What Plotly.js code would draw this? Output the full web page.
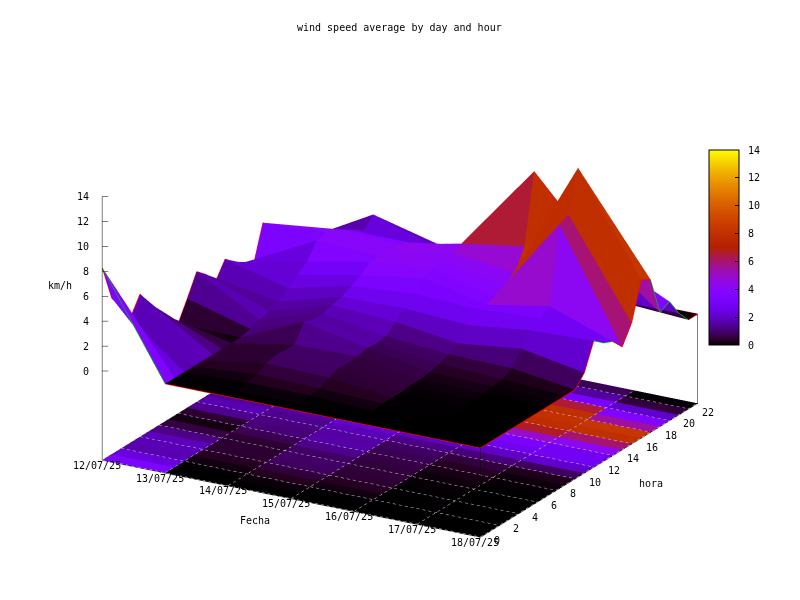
<!DOCTYPE html>
<html><head><meta charset="utf-8">
<script src="https://cdn.plot.ly/plotly-3.0.0.min.js"></script>
<style>html,body{margin:0;padding:0;background:#fff}#plot{width:800px;height:600px}</style>
</head><body><div id="plot"></div>
<script>
const dates=['12/07/25','13/07/25','14/07/25','15/07/25','16/07/25','17/07/25','18/07/25'];
const hourTicks=[0,2,4,6,8,10,12,14,16,18,20,22];
const zTicks=[0,2,4,6,8,10,12,14];
const hours=[0,1,2,3,4,5,6,7,8,9,10,11,12,13,14,15,16,17,18,19,20,21,22,23];
const wind1207=[8.3,5.4,4.1,2.9,4.3,3.1,1.9,.7,0,1.6,3.3,2.6,1.6,2.9,2.2,1.7,1.05,3.95,3.1,2.2,1.4,.7,.2,0];
const wind1307=[0,0,0,0,0,0,0,0,0,.2,.5,.7,1,1.6,2.2,2.8,4,4.2,4,3.5,3,2.5,3.3,2];
const wind1407=[0,0,.2,.4,.8,1,.9,.9,2.25,2,2,2.2,2.4,2.8,3.2,3.8,3.8,3.8,3.8,3.5,2.5,2.1,1.6,1.2];
const wind1507=[0,0,.2,.3,.7,1,.9,1,1.2,1.1,1.2,1.9,2.5,3.2,4,4.2,4.4,4.6,4.9,4.3,3,1.5,1,.5];
const wind1607=[0,0,0,.1,.1,.1,.2,.2,.3,.5,.8,1.2,2.2,3,2.9,3,3.5,4.05,5.7,11.25,5,3,2,1];
const wind1707=[0,0,0,0,0,0,0,.1,.2,.3,.7,1.8,2.8,3.3,3.8,9.9,10.2,13.5,9.1,5.8,4,1,.3,0];
const wind1807=[0,0,0,0,0,0,0,0,0,0,0,.9,3,2.35,2,1.1,2.55,5.55,5.1,2,2.4,1,0,0];
const days=[wind1207,wind1307,wind1407,wind1507,wind1607,wind1707,wind1807];
const FLOOR=-7.16, ZMAX=14;

const cs=[];for(let n=0;n<=48;n++){const g=n/48;
 const r=Math.sqrt(g),gr=g*g*g,b=Math.max(0,Math.sin(2*Math.PI*g));
 cs.push([g,`rgb(${Math.round(r*255)},${Math.round(gr*255)},${Math.round(b*255)})`]);}

const nd=dates.length,nh=hours.length,vx=[],vy=[],vz=[],fz=[],I=[],J=[],K=[],C=[];
for(let d=0;d<nd;d++)for(let h=0;h<nh;h++){vx.push(d);vy.push(hours[h]);vz.push(days[d][h]);fz.push(FLOOR);}
const id=(d,h)=>d*nh+h;
for(let d=0;d<nd-1;d++)for(let h=0;h<nh-1;h++){
 const m=(days[d][h]+days[d+1][h]+days[d][h+1]+days[d+1][h+1])/4;
 I.push(id(d,h),id(d,h));J.push(id(d+1,h),id(d+1,h+1));K.push(id(d+1,h+1),id(d,h+1));C.push(m,m);}
const flat={ambient:1,diffuse:0,specular:0,roughness:1,fresnel:0};
const FONT={family:'DejaVu Sans Mono',size:10,color:'#000'};
const mesh=(z,bar)=>({type:'mesh3d',x:vx,y:vy,z:z,i:I,j:J,k:K,intensity:C,intensitymode:'cell',
 colorscale:cs,cmin:0,cmax:14,flatshading:true,lighting:flat,hoverinfo:'skip',showscale:bar,
 colorbar:bar?{x:709/800,xanchor:'left',xpad:0,ypad:0,y:1-150/600,yanchor:'top',lenmode:'pixels',len:195,thicknessmode:'pixels',thickness:30,
  tickmode:'array',tickvals:zTicks,ticktext:zTicks.map(v=>'\u00a0'+v),ticks:'inside',ticklen:4,tickcolor:'#000',outlinecolor:'#000',outlinewidth:1,borderwidth:0,
  tickfont:FONT}:undefined});
const line=(x,y,z,color,width)=>({type:'scatter3d',mode:'lines',x,y,z,line:{color,width:width||1},hoverinfo:'skip',showlegend:false});
// dotted floor grid
const gx=[],gy=[],gz=[];
const G=FLOOR+0.03;
const dashed=(x0,y0,x1,y1,n)=>{for(let i=0;i<n;i++){const a=i/n,b=(i+.5)/n;
 gx.push(x0+(x1-x0)*a,x0+(x1-x0)*b,null);gy.push(y0+(y1-y0)*a,y0+(y1-y0)*b,null);gz.push(G,G,null);}};
hourTicks.forEach(h=>dashed(0,h,nd-1,h,64));
dates.forEach((_,d)=>dashed(d,0,d,23,43));
// surface edges
const rx=[],ry=[],rz=[],ex=[],ey=[],ez=[];
const seg=(ax,ay,az,d0,h0,d1,h1)=>{ax.push(d0,d1,null);ay.push(h0,h1,null);az.push(days[d0][h0],days[d1][h1],null);};
for(let h=0;h<nh-1;h++){seg(rx,ry,rz,0,h,0,h+1);
 const green=(h>=12&&h<14)||(h>=18&&h<22);
 if(green)seg(ex,ey,ez,6,h,6,h+1);else seg(rx,ry,rz,6,h,6,h+1);}
for(let d=0;d<nd-1;d++){seg(rx,ry,rz,d,23,d+1,23);
 if(d===0)seg(ex,ey,ez,d,0,d+1,0);else seg(rx,ry,rz,d,0,d+1,0);}
seg(rx,ry,rz,4,19,5,19);seg(rx,ry,rz,5,17,5,18);
// frame and tick marks
const fx=[0,6,6,null,0,0,null,6,6,null,0,0],fy=[0,0,23,null,0,0,null,0,0,null,0,23],
      fzl=[FLOOR,FLOOR,FLOOR,null,FLOOR,ZMAX,null,FLOOR,days[6][0],null,FLOOR,FLOOR];
const vx2=[6,6],vy2=[23,23],vz2=[FLOOR,days[6][23]];
zTicks.forEach(t=>{fx.push(null,0,.072);fy.push(null,0,.158);fzl.push(null,t,t);});
hourTicks.forEach(h=>{fx.push(null,6,5.92);fy.push(null,h,h);fzl.push(null,FLOOR,FLOOR);});
dates.forEach((_,d)=>{fx.push(null,d,d);fy.push(null,0,.6);fzl.push(null,FLOOR,FLOOR);});
const axis=(r)=>({range:r,showticklabels:false,ticks:'',showgrid:false,zeroline:false,showbackground:false,showspikes:false,showline:false,title:{text:''}});
const sa=(x,y,z,text,xshift,yshift,xanchor)=>({x,y,z,text,xshift,yshift,xanchor,yanchor:'middle',showarrow:false,font:FONT});
const sceneAnn=[
 ...dates.map((t,d)=>sa(d,0,FLOOR,t,-5,-5,'center')),
 ...hourTicks.map(h=>sa(6,h,FLOOR,String(h),12,-3,'left')),
 ...zTicks.map(t=>sa(0,0,t,String(t),-11,0,'right'))];
const th=60.1*Math.PI/180,e=20.75*Math.PI/180,D=1.3,S=1.455;
const layout={width:800,height:600,margin:{l:0,r:0,t:0,b:0},paper_bgcolor:'#fff',showlegend:false,
 scene:{domain:{x:[0,1],y:[0,1]},aspectmode:'manual',aspectratio:{x:S,y:S,z:.647*S},
  camera:{projection:{type:'orthographic'},center:{x:0,y:0,z:0},up:{x:0,y:0,z:1},
   eye:{x:D*Math.cos(e)*Math.cos(th),y:-D*Math.cos(e)*Math.sin(th),z:D*Math.sin(e)}},
  xaxis:axis([-0.002,6.002]),yaxis:axis([-0.005,23.005]),zaxis:axis([FLOOR-0.02,ZMAX]),
  annotations:sceneAnn},
 annotations:[
  {t:'wind speed average by day and hour',x:399,y:28},{t:'km/h',x:60,y:285},{t:'Fecha',x:255,y:520},{t:'hora',x:651,y:483}
 ].map(a=>({text:a.t,xref:'paper',yref:'paper',x:a.x/800,y:1-a.y/600,xanchor:'center',yanchor:'middle',showarrow:false,font:FONT}))};
Plotly.newPlot('plot',[mesh(vz,true),mesh(fz,false),
 line(gx,gy,gz,'#cfcfcf',1),line(rx,ry,rz,'#ff0000',1.5),line(ex,ey,ez,'#00c000',1.5),
 line(fx,fy,fzl,'#000000',1),line(vx2,vy2,vz2,'#000000',1)],layout,{displayModeBar:false});
</script></body></html>
